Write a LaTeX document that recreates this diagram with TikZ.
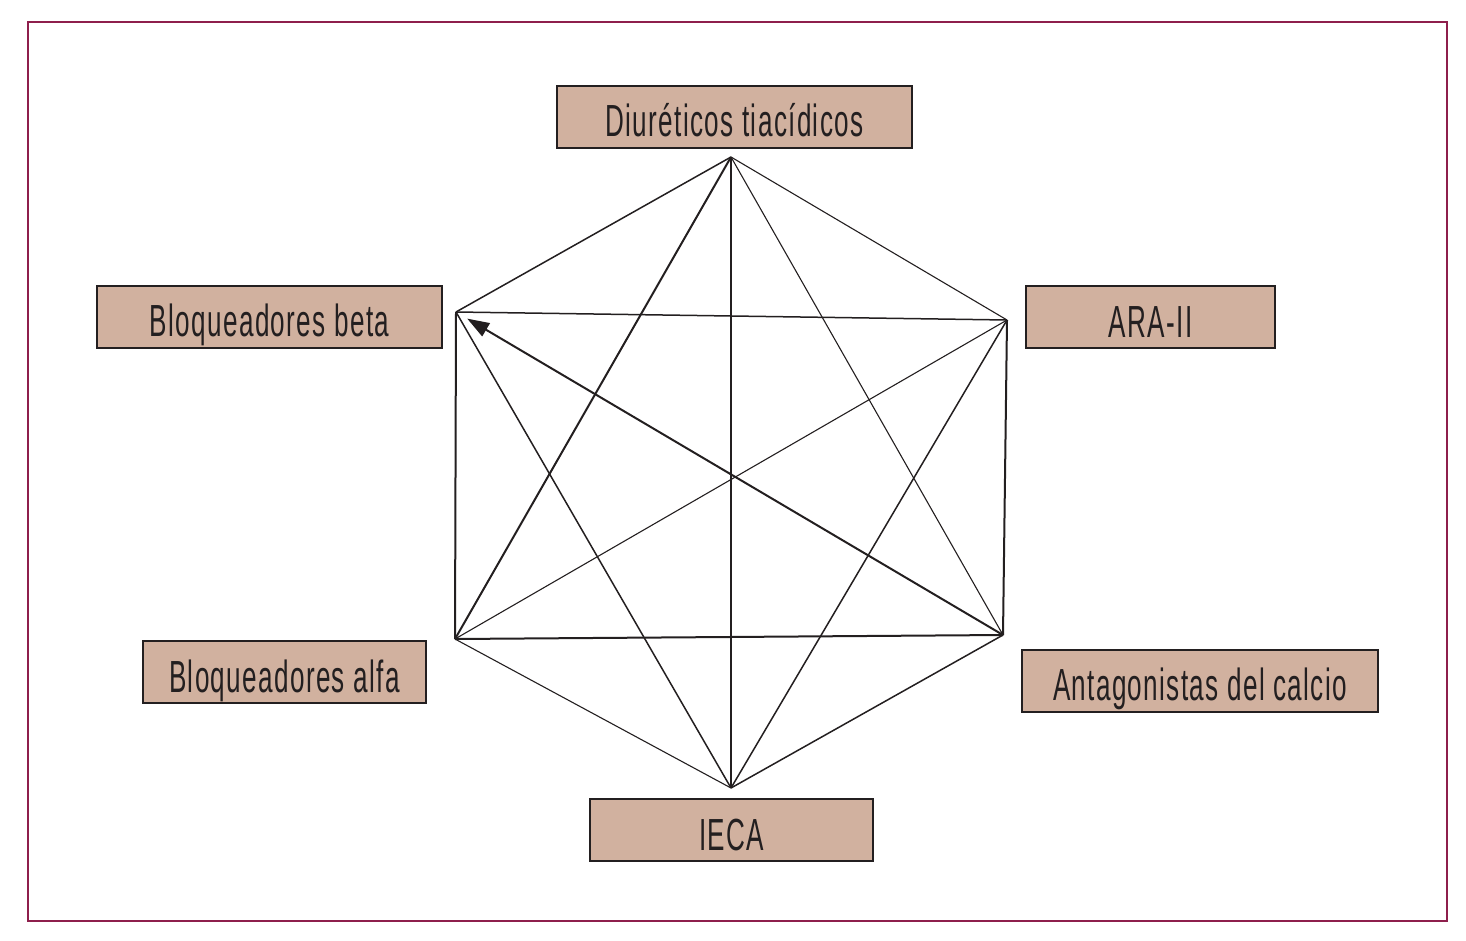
\documentclass[tikz,border=0pt]{standalone}
\usepackage{fontspec}
\setmainfont{Liberation Sans}[FakeStretch=0.58, LetterSpace=3]
\usetikzlibrary{arrows.meta}
\definecolor{framecol}{HTML}{8E1F4C}
\definecolor{boxfill}{HTML}{D1B19F}
\definecolor{boxline}{HTML}{231F20}
\tikzset{
  drugbox/.style={draw=boxline, fill=boxfill, line width=1pt, inner sep=0pt,
    minimum height=31pt, text height=21pt, text depth=1pt,
    font=\fontsize{22.5}{27}\selectfont, text=boxline},
  thickedge/.style={line width=1pt, draw=boxline},
  midedge/.style={line width=0.75pt, draw=boxline},
  thinedge/.style={line width=0.55pt, draw=boxline},
}
\begin{document}
\begin{tikzpicture}[x=0.5pt,y=-0.5pt]
\useasboundingbox (0,0) rectangle (1466,941);
\draw[framecol, line width=1.15pt] (28,22) rectangle (1447,921);

\node[drugbox, minimum width=177.5pt] (diu) at (734.5,117) {Diuréticos tiacídicos};
\node[drugbox, minimum width=172.5pt] (beta) at (269.5,316.5) {Bloqueadores beta};
\node[drugbox, minimum width=124.5pt] (ara) at (1150.5,317) {ARA-II};
\node[drugbox, minimum width=141.5pt] (alfa) at (284.5,672) {Bloqueadores alfa};
\node[drugbox, minimum width=178pt] (calc) at (1200,680.5) {Antagonistas del calcio};
\node[drugbox, minimum width=141.5pt] (ieca) at (731.5,830) {IECA};

\coordinate (T) at (731,157);
\coordinate (UR) at (1007,320);
\coordinate (LR) at (1003,635);
\coordinate (B) at (731,788);
\coordinate (LL) at (455,639);
\coordinate (UL) at (456,312);

% hexagon sides
\draw[midedge] (T) -- (UL);
\draw[thinedge] (T) -- (UR);
\draw[thickedge] (UR) -- (LR);
\draw[midedge] (LR) -- (B);
\draw[thinedge] (B) -- (LL);
\draw[thickedge] (LL) -- (UL);
% diagonals
\draw[thickedge] (T) -- (B);
\draw[thickedge] (T) -- (LL);
\draw[thinedge] (T) -- (LR);
\draw[midedge] (UL) -- (UR);
\draw[midedge] (UL) -- (B);
\draw[midedge] (UR) -- (B);
\draw[thinedge] (UR) -- (LL);
\draw[thickedge] (LL) -- (LR);
\draw[thickedge, -{Triangle[length=11pt,width=7.5pt]}, shorten >=6.5pt] (LR) -- (UL);
\end{tikzpicture}
\end{document}
